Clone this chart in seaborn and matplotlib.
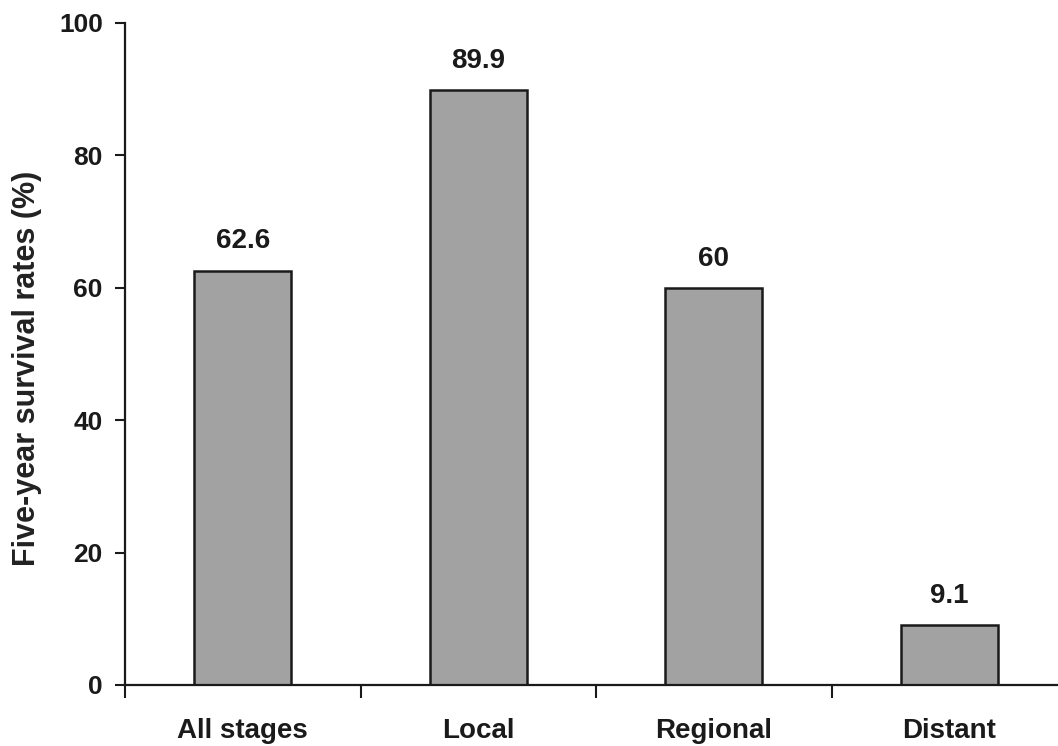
import matplotlib
matplotlib.use("Agg")
import matplotlib.pyplot as plt
from matplotlib.ticker import FixedLocator
import seaborn as sns

# Five-year survival by stage at diagnosis
stages = ["All stages", "Local", "Regional", "Distant"]
survival = [62.6, 89.9, 60, 9.1]
y_ticks = [0, 20, 40, 60, 80, 100]

sns.set_style("ticks")
plt.rcParams["font.family"] = ["Liberation Sans", "DejaVu Sans"]
plt.rcParams["font.weight"] = "bold"

fig = plt.figure(figsize=(10.58, 7.46), dpi=100)
ax = fig.add_axes([125 / 1058, 61 / 746, 942 / 1058, 662 / 746])

sns.barplot(x=stages, y=survival, color="#a2a2a2", saturation=1,
            edgecolor="#1a1a1a", linewidth=1.8, width=0.41, ax=ax)

ax.set_xlim(-0.5, len(stages) - 0.5)
ax.set_ylim(0, 100)
ax.set_yticks(y_ticks)
ax.set_yticklabels([str(t) for t in y_ticks])

# value labels above each bar
for i, v in enumerate(survival):
    ax.annotate(f"{v:g}", xy=(i, v), xytext=(0, 16), textcoords="offset points",
                ha="center", va="baseline", fontsize=20, fontweight="bold",
                color="#1a1a1a")

# category labels centred under bars, tick marks at the category boundaries
ax.tick_params(axis="x", which="major", length=0, pad=24, labelsize=20,
               labelcolor="#1a1a1a")
ax.xaxis.set_minor_locator(FixedLocator([i - 0.5 for i in range(len(stages) + 1)]))
ax.tick_params(axis="x", which="minor", length=9, width=1.5, color="#1a1a1a",
               direction="out")
ax.tick_params(axis="y", length=7, width=1.5, pad=9, labelsize=19,
               color="#1a1a1a", labelcolor="#1a1a1a")
for lab in ax.get_xticklabels() + ax.get_yticklabels():
    lab.set_fontweight("bold")

ax.set_ylabel("Five-year survival rates (%)", fontsize=22, fontweight="bold",
              color="#222222")
ax.yaxis.set_label_coords(-0.088, 0.479)
ax.set_xlabel("")

sns.despine(ax=ax)
for side in ("left", "bottom"):
    ax.spines[side].set_linewidth(1.6)
    ax.spines[side].set_color("#1a1a1a")

fig.savefig("out.png", dpi=100)
